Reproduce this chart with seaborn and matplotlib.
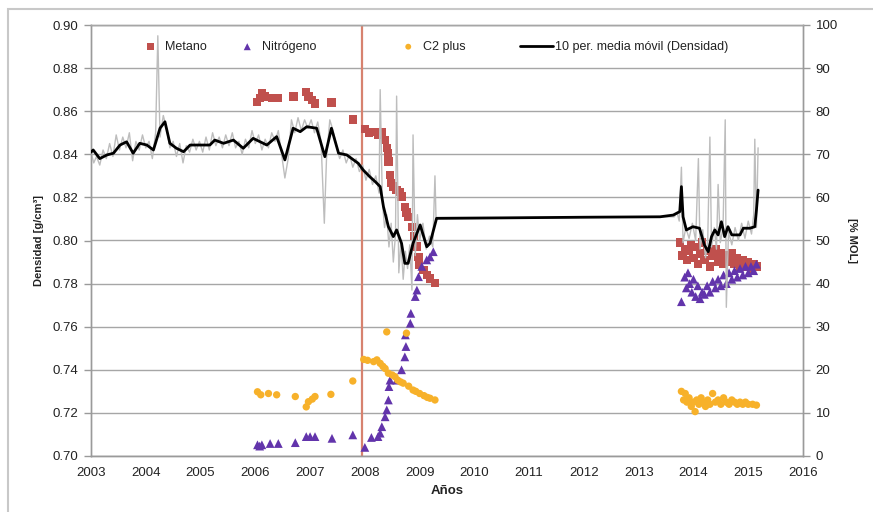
import matplotlib
matplotlib.use("Agg")
import matplotlib.pyplot as plt
from matplotlib.patches import Rectangle
from matplotlib.ticker import FormatStrFormatter
import seaborn as sns
import numpy as np

# ---------------- data ----------------
raw_year = [2003.00, 2003.05, 2003.10, 2003.16, 2003.22, 2003.28, 2003.34, 2003.40, 2003.46, 2003.52,
            2003.58, 2003.64, 2003.70, 2003.76, 2003.82, 2003.88, 2003.94, 2004.00, 2004.06, 2004.12,
            2004.18, 2004.22, 2004.26, 2004.32, 2004.38, 2004.44, 2004.50, 2004.56, 2004.62, 2004.68,
            2004.74, 2004.80, 2004.86, 2004.92, 2004.98, 2005.04, 2005.10, 2005.16, 2005.22, 2005.28,
            2005.34, 2005.40, 2005.46, 2005.52, 2005.58, 2005.64, 2005.70, 2005.76, 2005.82, 2005.88,
            2005.94, 2006.00, 2006.06, 2006.12, 2006.18, 2006.24, 2006.30, 2006.36, 2006.42, 2006.48,
            2006.54, 2006.60, 2006.66, 2006.72, 2006.78, 2006.84, 2006.90, 2006.96, 2007.02, 2007.08,
            2007.14, 2007.20, 2007.26, 2007.30, 2007.36, 2007.42, 2007.48, 2007.54, 2007.60, 2007.66,
            2007.72, 2007.78, 2007.84, 2007.90, 2007.96, 2008.02, 2008.08, 2008.14, 2008.20, 2008.26,
            2008.28, 2008.32, 2008.36, 2008.40, 2008.44, 2008.48, 2008.52, 2008.56, 2008.58, 2008.62,
            2008.66, 2008.70, 2008.74, 2008.78, 2008.82, 2008.86, 2008.88, 2008.92, 2008.96, 2009.00,
            2009.06, 2009.12, 2009.18, 2009.24, 2009.28, 2009.30, 2011.50, 2013.65, 2013.70, 2013.74,
            2013.78, 2013.81, 2013.86, 2013.92, 2013.98, 2014.04, 2014.09, 2014.12, 2014.17, 2014.22,
            2014.26, 2014.30, 2014.33, 2014.38, 2014.42, 2014.45, 2014.49, 2014.54, 2014.58, 2014.60,
            2014.64, 2014.70, 2014.76, 2014.82, 2014.88, 2014.94, 2015.00, 2015.06, 2015.10, 2015.12,
            2015.15, 2015.18]
raw_dens = [0.841, 0.836, 0.839, 0.835, 0.842, 0.838, 0.845, 0.839, 0.849, 0.842,
            0.848, 0.843, 0.850, 0.837, 0.846, 0.842, 0.849, 0.843, 0.846, 0.838,
            0.850, 0.895, 0.848, 0.858, 0.852, 0.843, 0.846, 0.839, 0.845, 0.836,
            0.844, 0.841, 0.847, 0.842, 0.846, 0.841, 0.848, 0.842, 0.850, 0.844,
            0.848, 0.843, 0.849, 0.844, 0.850, 0.843, 0.846, 0.840, 0.847, 0.843,
            0.851, 0.845, 0.849, 0.842, 0.847, 0.843, 0.850, 0.846, 0.851, 0.840,
            0.829, 0.838, 0.856, 0.850, 0.857, 0.851, 0.856, 0.852, 0.856, 0.850,
            0.855, 0.846, 0.808, 0.838, 0.856, 0.851, 0.844, 0.838, 0.842, 0.836,
            0.840, 0.834, 0.838, 0.832, 0.835, 0.828, 0.833, 0.826, 0.830, 0.822,
            0.870, 0.818, 0.806, 0.812, 0.797, 0.808, 0.790, 0.803, 0.867, 0.785,
            0.800, 0.782, 0.795, 0.787, 0.798, 0.777, 0.849, 0.793, 0.812, 0.800,
            0.808, 0.796, 0.802, 0.797, 0.830, 0.810, 0.8106, 0.811, 0.813, 0.809,
            0.834, 0.799, 0.806, 0.801, 0.808, 0.800, 0.838, 0.796, 0.805, 0.792,
            0.800, 0.848, 0.797, 0.806, 0.796, 0.826, 0.799, 0.806, 0.856, 0.769,
            0.804, 0.798, 0.806, 0.800, 0.808, 0.801, 0.809, 0.803, 0.812, 0.847,
            0.806, 0.843]

ma_year = [2003.00, 2003.04, 2003.16, 2003.29, 2003.41, 2003.53, 2003.65, 2003.77, 2003.89, 2004.02,
           2004.14, 2004.26, 2004.35, 2004.44, 2004.56, 2004.69, 2004.81, 2004.99, 2005.17, 2005.26,
           2005.42, 2005.60, 2005.78, 2005.96, 2006.21, 2006.39, 2006.54, 2006.69, 2006.82, 2006.94,
           2007.12, 2007.27, 2007.39, 2007.52, 2007.67, 2007.88, 2007.97, 2008.09, 2008.19, 2008.28,
           2008.34, 2008.43, 2008.52, 2008.58, 2008.67, 2008.73, 2008.79, 2008.88, 2009.01, 2009.13,
           2009.19, 2009.31, 2010.50, 2012.00, 2013.39, 2013.63, 2013.75, 2013.78, 2013.81, 2013.87,
           2013.99, 2014.11, 2014.20, 2014.27, 2014.33, 2014.39, 2014.45, 2014.51, 2014.57, 2014.63,
           2014.70, 2014.85, 2014.91, 2015.03, 2015.12, 2015.15, 2015.18]
ma_dens = [0.841, 0.842, 0.838, 0.8397, 0.8405, 0.8443, 0.8458, 0.8405, 0.8451, 0.8443,
           0.842, 0.8521, 0.8551, 0.8451, 0.8428, 0.8412, 0.8443, 0.8443, 0.8443, 0.8466,
           0.8451, 0.8466, 0.8428, 0.8474, 0.8443, 0.8482, 0.8374, 0.8521, 0.8505, 0.8528,
           0.8521, 0.8389, 0.8521, 0.8405, 0.8397, 0.8358, 0.8327, 0.8296, 0.8273, 0.825,
           0.8157, 0.8064, 0.8018, 0.8049, 0.7987, 0.7894, 0.7894, 0.7987, 0.8072, 0.7971,
           0.7987, 0.8103, 0.8105, 0.8108, 0.811, 0.8118, 0.8134, 0.825, 0.811, 0.8049,
           0.8064, 0.8057, 0.7979, 0.7948, 0.8018, 0.8049, 0.8026, 0.8087, 0.8018, 0.8064,
           0.8026, 0.8026, 0.8057, 0.8057, 0.8064, 0.8142, 0.8234]

metano_year = [2006.03, 2006.08, 2006.12, 2006.18, 2006.30, 2006.42, 2006.70, 2006.93, 2006.97, 2007.03,
               2007.09, 2007.39, 2007.78, 2008.00, 2008.08, 2008.16, 2008.24, 2008.31, 2008.37, 2008.40,
               2008.42, 2008.43, 2008.46, 2008.48, 2008.52, 2008.58, 2008.64, 2008.67, 2008.73, 2008.76,
               2008.79, 2008.86, 2008.90, 2008.95, 2008.98, 2008.99, 2009.07, 2009.13, 2009.19, 2009.28,
               2013.75, 2013.80, 2013.84, 2013.88, 2013.92, 2013.96, 2014.00, 2014.04, 2014.08, 2014.12,
               2014.16, 2014.20, 2014.25, 2014.30, 2014.35, 2014.40, 2014.45, 2014.50, 2014.55, 2014.60,
               2014.65, 2014.70, 2014.75, 2014.80, 2014.85, 2014.90, 2014.95, 2015.00, 2015.05, 2015.10,
               2015.15]
metano_pct = [82.2, 83.0, 84.2, 83.4, 83.0, 83.0, 83.4, 84.5, 83.4, 82.6,
              81.8, 82.0, 78.1, 75.8, 75.0, 75.2, 74.6, 75.2, 73.3, 71.4,
              70.2, 68.3, 65.2, 63.3, 62.5, 61.7, 61.3, 60.2, 57.8, 56.5,
              55.5, 53.2, 51.0, 48.6, 46.2, 44.3, 43.2, 42.0, 41.2, 40.1,
              49.5, 46.5, 48.0, 45.5, 47.5, 49.0, 46.0, 48.5, 44.5, 47.0,
              49.5, 45.5, 47.5, 44.0, 46.5, 48.0, 45.0, 47.0, 44.5, 46.5,
              45.0, 47.0, 44.5, 46.0, 44.0, 45.5, 44.0, 45.0, 43.5, 44.5,
              44.0]

nitro_year = [2006.04, 2006.08, 2006.12, 2006.27, 2006.42, 2006.73, 2006.93, 2007.00, 2007.09, 2007.40,
              2007.78, 2008.00, 2008.12, 2008.24, 2008.28, 2008.31, 2008.37, 2008.40, 2008.43, 2008.44,
              2008.46, 2008.58, 2008.67, 2008.73, 2008.75, 2008.74, 2008.83, 2008.84, 2008.92, 2008.95,
              2008.98, 2009.04, 2009.13, 2009.19, 2009.25,
              2013.78, 2013.84, 2013.87, 2013.90, 2013.93, 2013.97, 2014.00, 2014.04, 2014.08, 2014.12,
              2014.16, 2014.20, 2014.25, 2014.30, 2014.35, 2014.40, 2014.45, 2014.50, 2014.55, 2014.60,
              2014.65, 2014.70, 2014.75, 2014.80, 2014.85, 2014.90, 2014.95, 2015.00, 2015.05, 2015.10,
              2015.15]
nitro_pct = [2.6, 2.3, 2.6, 2.9, 2.9, 3.1, 4.5, 4.5, 4.5, 4.1,
             4.9, 2.0, 4.3, 4.5, 5.3, 6.8, 9.1, 10.7, 13.0, 16.1,
             17.6, 17.6, 20.0, 23.0, 25.4, 28.1, 30.8, 33.1, 37.0, 38.5,
             41.6, 44.0, 45.5, 46.2, 47.4,
             35.8, 41.5, 39.0, 42.5, 40.0, 38.0, 41.0, 37.0, 39.5, 36.5,
             38.0, 37.5, 39.5, 38.0, 40.5, 39.0, 41.0, 39.5, 42.0, 40.0,
             42.5, 41.0, 43.0, 41.5, 43.5, 42.0, 44.0, 42.5, 44.0, 43.0,
             44.5]

c2_year = [2006.04, 2006.10, 2006.24, 2006.39, 2006.73, 2006.93, 2006.97, 2007.04, 2007.09, 2007.38,
           2007.78, 2007.98, 2008.05, 2008.16, 2008.22, 2008.28, 2008.33, 2008.37, 2008.40, 2008.43,
           2008.50, 2008.55, 2008.60, 2008.65, 2008.70, 2008.76, 2008.80, 2008.88, 2008.93, 2009.00,
           2009.08, 2009.14, 2009.19, 2009.28,
           2013.78, 2013.82, 2013.85, 2013.88, 2013.92, 2013.96, 2014.00, 2014.03, 2014.06, 2014.10,
           2014.14, 2014.18, 2014.22, 2014.26, 2014.30, 2014.35, 2014.40, 2014.45, 2014.50, 2014.55,
           2014.60, 2014.65, 2014.70, 2014.75, 2014.80, 2014.85, 2014.90, 2014.95, 2015.00, 2015.08,
           2015.15]
c2_pct = [14.9, 14.2, 14.5, 14.2, 13.8, 11.4, 12.6, 13.2, 13.8, 14.3,
          17.4, 22.4, 22.2, 21.9, 22.3, 21.5, 20.8, 20.3, 28.8, 19.2,
          18.8, 18.4, 17.6, 17.2, 16.9, 28.5, 16.2, 15.3, 15.0, 14.5,
          14.0, 13.6, 13.4, 13.0,
          15.0, 13.0, 14.5, 12.5, 13.5, 11.5, 12.5, 10.3, 13.0, 12.0,
          13.5, 12.5, 11.5, 13.0, 12.0, 14.5, 12.5, 13.0, 12.0, 13.5,
          12.5, 12.0, 13.0, 12.5, 12.0, 12.5, 12.0, 12.5, 12.0, 12.0,
          11.8]

event_year = 2007.95
x_ticks = list(range(2003, 2017))
dens_ticks = [0.70, 0.72, 0.74, 0.76, 0.78, 0.80, 0.82, 0.84, 0.86, 0.88, 0.90]
pct_ticks = [0, 10, 20, 30, 40, 50, 60, 70, 80, 90, 100]

# ---------------- style ----------------
sns.set_theme(style="white")
plt.rcParams["font.family"] = ["Liberation Sans", "DejaVu Sans"]

W, H = 873, 512
fig = plt.figure(figsize=(W / 100, H / 100), dpi=100)
fig.patch.set_facecolor("white")
fig.patches.append(Rectangle((8 / W, -0.1), 1.2, 1.1 - 9 / H, transform=fig.transFigure,
                             fill=False, edgecolor="#c8c8c8", lw=1.5))

ax = fig.add_axes([91 / W, 1 - 456 / H, 712 / W, 431 / H])
ax2 = ax.twinx()
ax.set_zorder(2)
ax2.set_zorder(1)
ax.patch.set_visible(False)
ax2.patch.set_facecolor("white")

gridc = "#a6a6a6"
for t in pct_ticks:
    ax2.axhline(t, color=gridc, lw=1.0, zorder=0.5)

ax2.axvline(event_year, color="#d7826f", lw=1.6, zorder=1)

red = "#c0504d"
purple = "#6234ab"
orange = "#f7b12a"
sns.scatterplot(x=metano_year, y=metano_pct, ax=ax2, marker="s", color=red, s=36,
                edgecolor="none", label="Metano", zorder=3)
sns.scatterplot(x=nitro_year, y=nitro_pct, ax=ax2, marker="^", color=purple, s=40,
                edgecolor="none", label="Nitrógeno", zorder=3)
sns.scatterplot(x=c2_year, y=c2_pct, ax=ax2, marker="o", color=orange, s=28,
                edgecolor="none", label="C2 plus", zorder=3)
if ax2.get_legend() is not None:
    ax2.get_legend().remove()

sns.lineplot(x=raw_year, y=raw_dens, ax=ax, color="#bdbdbd", lw=1.0, estimator=None,
             sort=False, legend=False, zorder=2)
sns.lineplot(x=ma_year, y=ma_dens, ax=ax, color="black", lw=2.0, estimator=None,
             sort=False, label="10 per. media móvil (Densidad)", zorder=3)
if ax.get_legend() is not None:
    ax.get_legend().remove()

ax.set_xlim(2003, 2016)
ax.set_ylim(0.70, 0.90)
ax2.set_ylim(0, 100)
ax.set_xticks(x_ticks)
ax.set_xticklabels([str(t) for t in x_ticks])
ax.set_yticks(dens_ticks)
ax.yaxis.set_major_formatter(FormatStrFormatter("%.2f"))
ax2.set_yticks(pct_ticks)

for a in (ax, ax2):
    for sp in a.spines.values():
        sp.set_color("#9a9a9a")
        sp.set_linewidth(1.0)
    a.tick_params(direction="out", length=5, width=1, color="#9a9a9a",
                  labelsize=9.5, labelcolor="#222222")
ax.spines["top"].set_color(gridc)
ax2.spines["top"].set_color(gridc)
ax.tick_params(axis="x", pad=3)
ax.tick_params(axis="y", pad=4, left=True)
ax2.tick_params(axis="y", pad=4, right=True)

ax.set_xlabel("Años", fontsize=9.5, fontweight="bold", labelpad=4, color="#222222")
ax.set_ylabel("Densidad [g/cm³]", fontsize=8, fontweight="bold", labelpad=6, color="#222222")
ax2.set_ylabel("[% MOL]", fontsize=8, fontweight="bold", rotation=270, labelpad=14, color="#222222")

# legend: one entry per box, placed like the original
h2, l2 = ax2.get_legend_handles_labels()
h1, l1 = ax.get_legend_handles_labels()
handles = h2 + h1
labels = l2 + l1
W_ax = 712.0
starts = [144, 241, 402, 520]          # pixel x of each entry start
hlen = [1.0, 1.0, 1.0, 2.6]
hpad = [0.7, 0.7, 0.7, 0.2]
legs = []
for h, l, sx, hl, hp in zip(handles, labels, starts, hlen, hpad):
    lg = ax.legend([h], [l], loc="center left", bbox_to_anchor=((sx - 91) / W_ax, 0.949),
                   frameon=False, fontsize=9, handlelength=hl, handletextpad=hp,
                   borderpad=0, borderaxespad=0, markerscale=0.8)
    for t in lg.get_texts():
        t.set_color("#222222")
    legs.append(lg)
for lg in legs[:-1]:
    ax.add_artist(lg)

fig.savefig("out.png", dpi=100, facecolor="white")
